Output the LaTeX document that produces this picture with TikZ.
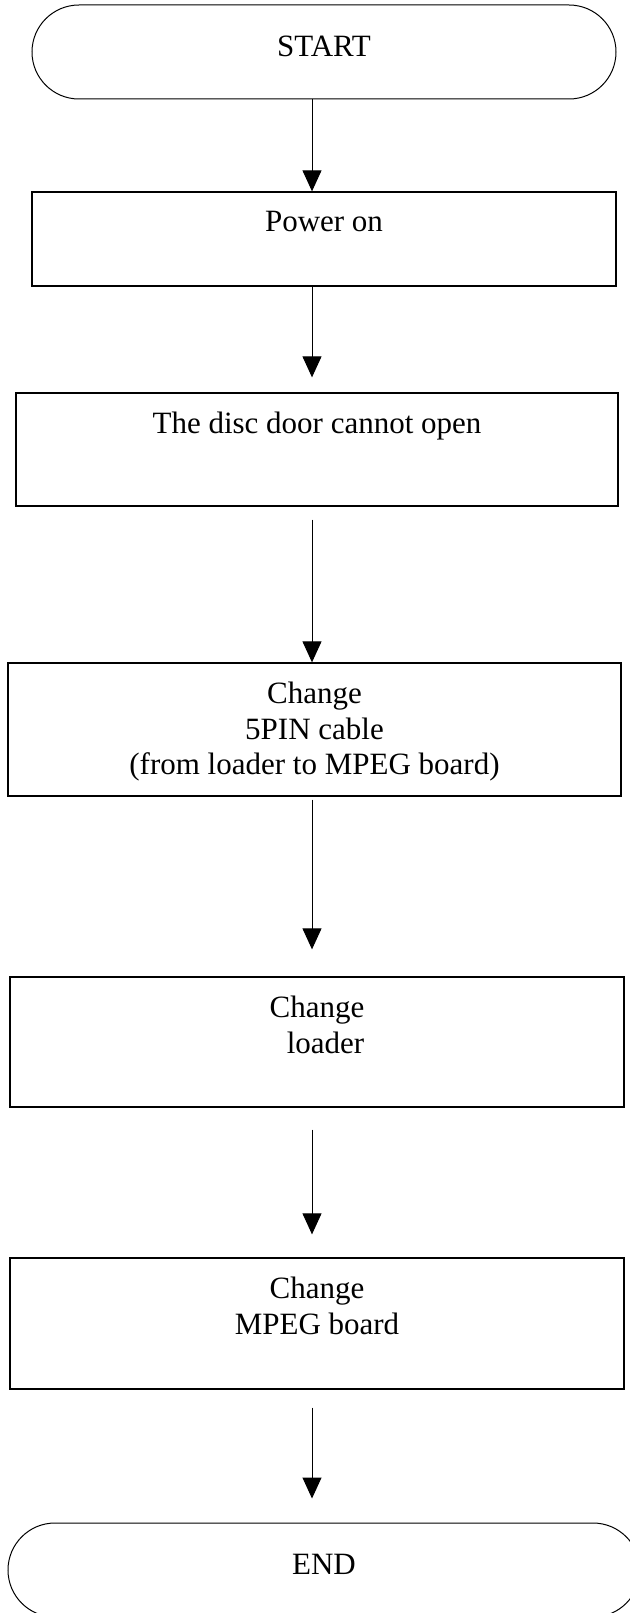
\documentclass[tikz,border=0pt]{standalone}
\usepackage{fontspec}
\setmainfont{Liberation Serif}
\usetikzlibrary{arrows.meta}

\begin{document}
\begin{tikzpicture}[x=1pt, y=-1pt, font=\fontsize{31}{35.5}\selectfont,
    terminal/.style={draw=borderColour, line width=1pt, rounded corners=47pt,
        minimum height=94pt, inner sep=0pt, text height=21pt, text depth=12pt},
    process/.style={draw=borderColour, line width=1.3pt, inner sep=0pt},
    boxText/.style={anchor=north, inner sep=0pt, align=center, yshift=-19.5pt},
    flowArrow/.style={draw=borderColour, line width=1pt, -{Triangle[length=21pt, width=19pt]}}]
    % Define colours
    \definecolor{borderColour}{HTML}{000000}

    % Fix the page size
    \useasboundingbox (0,0) rectangle (629,1613);

    % Define the axis of the arrows
    \coordinate (axis) at (312,0);

    % Draw start
    \node[terminal, minimum width=584pt] (start) at (324,52) {START};

    % Draw the steps
    \node[process, minimum width=584pt, minimum height=94pt] (power) at (324,239) {};
    \node[boxText] (powerText) at (power.north) {Power on};

    \node[process, minimum width=602pt, minimum height=113pt] (disc) at (317,449.5) {};
    \node[boxText] (discText) at (disc.north) {The disc door cannot open};

    \node[process, minimum width=613pt, minimum height=133pt] (cable) at (314.5,729.5) {};
    \node[boxText] (cableText) at (cable.north) {Change\\5PIN cable\\(from loader to MPEG board)};

    \node[process, minimum width=614pt, minimum height=130pt] (loader) at (317,1042) {};
    \node[boxText] (loaderText) at (loader.north) {Change\\\hspace*{17pt}loader};

    \node[process, minimum width=614pt, minimum height=131pt] (mpeg) at (317,1323.5) {};
    \node[boxText] (mpegText) at (mpeg.north) {Change\\MPEG board};

    % Draw end
    \node[terminal, minimum width=632pt] (finish) at (324,1570) {END};

    % Draw arrows
    \draw[flowArrow] (start.south -| axis) -- (power.north -| axis);
    \draw[flowArrow, shorten >=15pt] (power.south -| axis) -- (disc.north -| axis);
    \draw[flowArrow, shorten <=13pt] (disc.south -| axis) -- (cable.north -| axis);
    \draw[flowArrow, shorten <=3pt, shorten >=27pt] (cable.south -| axis) -- (loader.north -| axis);
    \draw[flowArrow, shorten <=22pt, shorten >=23pt] (loader.south -| axis) -- (mpeg.north -| axis);
    \draw[flowArrow, shorten <=18pt, shorten >=24pt] (mpeg.south -| axis) -- (finish.north -| axis);

\end{tikzpicture}
\end{document}
